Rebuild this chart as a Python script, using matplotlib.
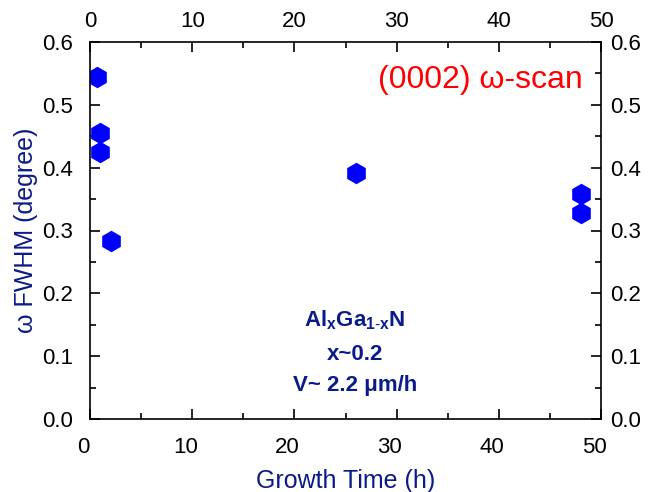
import matplotlib
matplotlib.use("Agg")
import matplotlib.pyplot as plt
import matplotlib.transforms as mtransforms
from matplotlib.ticker import MultipleLocator

plt.rcParams['font.family'] = ['Liberation Sans', 'DejaVu Sans']
plt.rcParams['mathtext.fontset'] = 'custom'
plt.rcParams['mathtext.rm'] = 'Liberation Sans'
plt.rcParams['mathtext.bf'] = 'Liberation Sans:bold'

growth_time = [0.7, 1.0, 1.0, 2.05, 26.0, 48.0, 48.0]
fwhm = [0.545, 0.455, 0.425, 0.283, 0.392, 0.358, 0.328]
x_ticks = [0, 10, 20, 30, 40, 50]
y_ticks = [0.0, 0.1, 0.2, 0.3, 0.4, 0.5, 0.6]

navy = '#0b1a8a'

fig = plt.figure(figsize=(6.51, 4.92), dpi=100)
ax = fig.add_axes([90/651, 73/492, 511/651, 377/492])
ax.plot(growth_time, fwhm, linestyle='none', marker='h', markersize=15.5,
        color='#0000ff', markeredgewidth=0)
ax.set_xlim(0, 50)
ax.set_ylim(0, 0.6)
ax.set_xticks(x_ticks)
ax.set_yticks(y_ticks)
ax.set_yticklabels([f"{v:.1f}" for v in y_ticks])
ax.xaxis.set_minor_locator(MultipleLocator(5))
ax.yaxis.set_minor_locator(MultipleLocator(0.05))
ax.tick_params(which='both', direction='in', top=True, right=True,
               labeltop=True, labelright=True, labelsize=16, width=1.2)
ax.tick_params(which='major', length=7)
ax.tick_params(which='minor', length=4)
ax.tick_params(axis='y', which='major', pad=12)
ax.tick_params(axis='x', which='major', pad=13)
for s in ax.spines.values():
    s.set_linewidth(1.2)

fig.canvas.draw()
# per-side label offsets
shift_left = mtransforms.ScaledTranslation(-7/100, 0, fig.dpi_scale_trans)
shift_down = mtransforms.ScaledTranslation(0, -8/100, fig.dpi_scale_trans)
shift_rightlab = mtransforms.ScaledTranslation(-8/100, 0, fig.dpi_scale_trans)
for t in ax.xaxis.get_major_ticks():
    t.label1.set_transform(t.label1.get_transform() + shift_left)
    t.label2.set_transform(t.label2.get_transform() + shift_down)
for t in ax.yaxis.get_major_ticks():
    t.label2.set_transform(t.label2.get_transform() + shift_rightlab)

ax.set_xlabel('Growth Time (h)', fontsize=18, color=navy, labelpad=8)
ax.set_ylabel('\u03c9 FWHM (degree)', fontsize=18, color=navy, labelpad=3)

ax.text(38.2, 0.539, '(0002) \u03c9-scan', color='#ff0000', fontsize=23,
        ha='center', va='center')
ax.text(25.9, 0.158, r'$\mathbf{Al_xGa_{1\text{-}x}N}$', color=navy, fontsize=16,
        ha='center', va='center', fontweight='bold')
ax.text(25.9, 0.102, 'x~0.2', color=navy, fontsize=16, ha='center', va='center',
        fontweight='bold')
ax.text(25.9, 0.054, 'V~ 2.2 \u03bcm/h', color=navy, fontsize=16, ha='center',
        va='center', fontweight='bold')

fig.savefig('out.png', dpi=100)
